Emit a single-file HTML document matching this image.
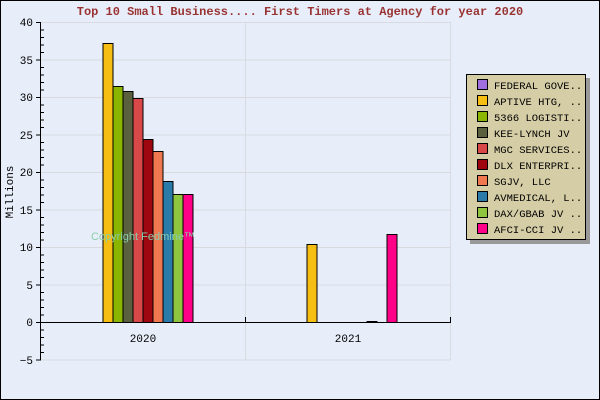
<!DOCTYPE html>
<html><head><style>body{margin:0}svg{display:block}</style></head><body>
<svg width="600" height="400" xmlns="http://www.w3.org/2000/svg" font-family="Liberation Mono, DejaVu Sans Mono, monospace">
<rect x="0.5" y="0.5" width="599" height="399" fill="#e8eef9" stroke="#000"/>
<text x="300" y="15" text-anchor="middle" font-size="12" font-weight="bold" fill="#993333">Top 10 Small Business.... First Timers at Agency for year 2020</text>
<g stroke="#d9d9e0" stroke-width="1">
<line x1="41" y1="22.5" x2="450" y2="22.5"/><line x1="41" y1="60" x2="450" y2="60"/><line x1="41" y1="97.5" x2="450" y2="97.5"/><line x1="41" y1="135" x2="450" y2="135"/><line x1="41" y1="172.5" x2="450" y2="172.5"/><line x1="41" y1="210" x2="450" y2="210"/><line x1="41" y1="247.5" x2="450" y2="247.5"/><line x1="41" y1="285" x2="450" y2="285"/><line x1="41" y1="360" x2="450" y2="360"/>
<line x1="245.5" y1="22" x2="245.5" y2="360"/><line x1="450.5" y1="22" x2="450.5" y2="360"/>
</g>
<g stroke="#000" stroke-width="1">
<line x1="40.5" y1="22" x2="40.5" y2="360"/>
<line x1="40" y1="322.5" x2="451" y2="322.5"/>
<line x1="245.5" y1="317" x2="245.5" y2="322"/><line x1="450.5" y1="317" x2="450.5" y2="322"/>
</g>
<g stroke="#000">
<path d="M36 22.5h5M36 60h5M36 97.5h5M36 135h5M36 172.5h5M36 210h5M36 247.5h5M36 285h5M36 322.5h5M36 360h5"/>
<path d="M40 30h4M40 37.5h4M40 45h4M40 52.5h4M40 67.5h4M40 75h4M40 82.5h4M40 90h4M40 105h4M40 112.5h4M40 120h4M40 127.5h4M40 142.5h4M40 150h4M40 157.5h4M40 165h4M40 180h4M40 187.5h4M40 195h4M40 202.5h4M40 217.5h4M40 225h4M40 232.5h4M40 240h4M40 255h4M40 262.5h4M40 270h4M40 277.5h4M40 292.5h4M40 300h4M40 307.5h4M40 315h4M40 330h4M40 337.5h4M40 345h4M40 352.5h4"/>
</g>
<g font-size="11" text-anchor="end" fill="#000">
<text x="33" y="26">40</text><text x="33" y="64">35</text><text x="33" y="101">30</text><text x="33" y="139">25</text><text x="33" y="176">20</text><text x="33" y="214">15</text><text x="33" y="251">10</text><text x="33" y="289">5</text><text x="33" y="326">0</text><text x="33" y="364">−5</text>
</g>
<text x="13" y="192" font-size="11" text-anchor="middle" transform="rotate(-90 13 192)">Millions</text>
<text x="143" y="342" font-size="11" text-anchor="middle">2020</text>
<text x="348" y="342" font-size="11" text-anchor="middle">2021</text>
<g stroke="#000" stroke-width="1">
<rect x="103" y="43.5" width="10" height="279" fill="#f6be12"/>
<rect x="113" y="86.5" width="10" height="236" fill="#8ab500"/>
<rect x="123" y="91.5" width="10" height="231" fill="#5a603e"/>
<rect x="133" y="98.5" width="10" height="224" fill="#d94848"/>
<rect x="143" y="139.5" width="10" height="183" fill="#9e0610"/>
<rect x="153" y="151.5" width="10" height="171" fill="#f07850"/>
<rect x="163" y="181.5" width="10" height="141" fill="#2a7aaa"/>
<rect x="173" y="194.5" width="10" height="128" fill="#8ec43e"/>
<rect x="183" y="194.5" width="10" height="128" fill="#ff0088"/>
<rect x="307" y="244.5" width="10" height="78" fill="#f6be12"/>
<rect x="367" y="321.5" width="10" height="1" fill="#8ec43e"/>
<rect x="387" y="234.5" width="10" height="88" fill="#ff0088"/>
</g>
<text x="91" y="240" font-size="11" fill="#88ccaa" font-family="Liberation Sans, sans-serif">Copyright Fedmine™</text>
<rect x="470" y="78" width="120" height="166" fill="#999"/>
<rect x="466.5" y="74.5" width="119" height="165" fill="#d5cda6" stroke="#000"/>
<g stroke="#000" font-size="11">
<rect x="477.5" y="79.5" width="10" height="10" fill="#a070e0"/>
<rect x="477.5" y="95.5" width="10" height="10" fill="#f6be12"/>
<rect x="477.5" y="111.5" width="10" height="10" fill="#8ab500"/>
<rect x="477.5" y="127.5" width="10" height="10" fill="#5a603e"/>
<rect x="477.5" y="143.5" width="10" height="10" fill="#d94848"/>
<rect x="477.5" y="159.5" width="10" height="10" fill="#9e0610"/>
<rect x="477.5" y="175.5" width="10" height="10" fill="#f07850"/>
<rect x="477.5" y="191.5" width="10" height="10" fill="#2a7aaa"/>
<rect x="477.5" y="207.5" width="10" height="10" fill="#8ec43e"/>
<rect x="477.5" y="223.5" width="10" height="10" fill="#ff0088"/>
</g>
<g font-size="10.5" fill="#000">
<text x="494" y="89">FEDERAL GOVE..</text>
<text x="494" y="105">APTIVE HTG, ..</text>
<text x="494" y="121">5366 LOGISTI..</text>
<text x="494" y="137">KEE-LYNCH JV</text>
<text x="494" y="153">MGC SERVICES..</text>
<text x="494" y="169">DLX ENTERPRI..</text>
<text x="494" y="185">SGJV, LLC</text>
<text x="494" y="201">AVMEDICAL, L..</text>
<text x="494" y="217">DAX/GBAB JV ..</text>
<text x="494" y="233">AFCI-CCI JV ..</text>
</g>
</svg>
</body></html>
